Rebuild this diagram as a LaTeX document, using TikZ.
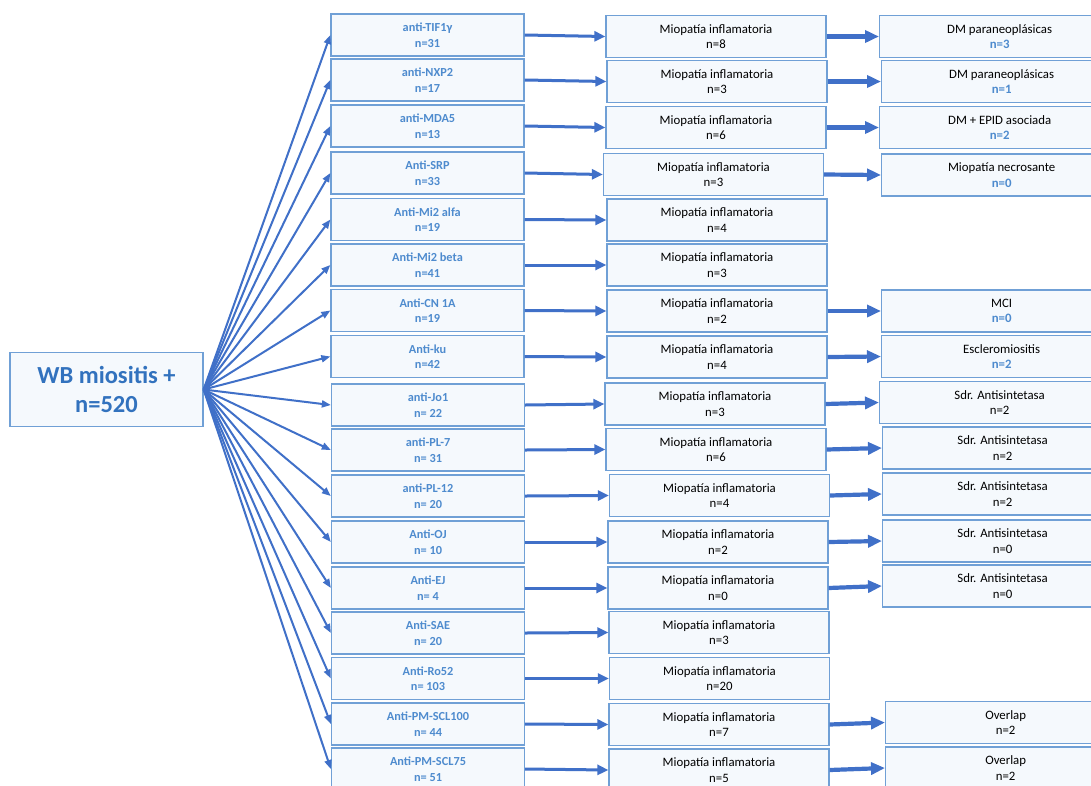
\documentclass[tikz,border=0pt]{standalone}
\usepackage{fontspec}
\setmainfont{Carlito}
\usetikzlibrary{arrows.meta}
\definecolor{arrowblue}{RGB}{64,112,200}
\definecolor{boxline}{RGB}{112,160,214}
\definecolor{boxfill}{RGB}{245,249,253}
\definecolor{txtblue}{RGB}{78,139,206}
\definecolor{roottxt}{RGB}{50,114,190}
\tikzset{
  box/.style={draw=boxline, fill=boxfill, line width=1.3pt, minimum height=42pt, inner sep=0pt, align=center, font=\fontsize{12.8}{15.5}\selectfont},
  abox/.style={box, minimum width=193pt, text=txtblue, font=\bfseries\fontsize{12.3}{15.5}\selectfont},
  mbox/.style={box, minimum width=220pt},
  rbox/.style={box, minimum width=240pt, anchor=west},
  rootbox/.style={box, minimum width=193pt, minimum height=74pt, text=roottxt, font=\bfseries\fontsize{24.5}{29.5}\selectfont},
  fan/.style={draw=arrowblue, line width=2pt, -{Triangle[length=9pt,width=7pt]}},
  mid/.style={draw=arrowblue, line width=3pt, -{Triangle[length=11pt,width=10pt]}},
  far/.style={draw=arrowblue, line width=4.2pt, -{Triangle[length=14pt,width=12pt]}},
}
\newcommand{\nb}[1]{\textcolor{txtblue}{\bfseries #1}}
\begin{document}
\begin{tikzpicture}[x=1pt,y=-1pt]
\useasboundingbox (0,0) rectangle (1091,785);
\clip (0,0) rectangle (1091,785);
\fill[white] (0,0) rectangle (1091,785);

\node[rootbox] (root) at (106.5,389.5) {WB miositis +\\n=520};

% column 1
\node[abox] (a1)  at (427.5,35)    {anti-TIF1γ\\n=31};
\node[abox] (a2)  at (427.5,80)    {anti-NXP2\\n=17};
\node[abox] (a3)  at (427.5,126)   {anti-MDA5\\n=13};
\node[abox] (a4)  at (427.5,173)   {Anti-SRP\\n=33};
\node[abox] (a5)  at (427.5,219.5) {Anti-Mi2 alfa\\n=19};
\node[abox] (a6)  at (427.5,265)   {Anti-Mi2 beta\\n=41};
\node[abox] (a7)  at (427.5,310.5) {Anti-CN 1A\\n=19};
\node[abox] (a8)  at (427.5,356.5) {Anti-ku\\n=42};
\node[abox] (a9)  at (428,405)     {anti-Jo1\\n= 22};
\node[abox] (a10) at (428,450)     {anti-PL-7\\n= 31};
\node[abox] (a11) at (428,496)     {anti-PL-12\\n= 20};
\node[abox] (a12) at (428,542)     {Anti-OJ\\n= 10};
\node[abox] (a13) at (428,588)     {Anti-EJ\\n= 4};
\node[abox] (a14) at (428,633)     {Anti-SAE\\n= 20};
\node[abox] (a15) at (428,678.5)   {Anti-Ro52\\n= 103};
\node[abox] (a16) at (428,724)     {Anti-PM-SCL100\\n= 44};
\node[abox] (a17) at (428,769)     {Anti-PM-SCL75\\n= 51};

% column 2
\node[mbox] (b1)  at (716,36.5)  {Miopatía inflamatoria\\n=8};
\node[mbox] (b2)  at (717,81.5)  {Miopatía inflamatoria\\n=3};
\node[mbox] (b3)  at (716,127.5) {Miopatía inflamatoria\\n=6};
\node[mbox] (b4)  at (713.5,174.5) {Miopatía inflamatoria\\n=3};
\node[mbox] (b5)  at (717,220)   {Miopatía inflamatoria\\n=4};
\node[mbox] (b6)  at (717,265)   {Miopatía inflamatoria\\n=3};
\node[mbox] (b7)  at (717,311)   {Miopatía inflamatoria\\n=2};
\node[mbox] (b8)  at (717,357)   {Miopatía inflamatoria\\n=4};
\node[mbox] (b9)  at (715,404)   {Miopatía inflamatoria\\n=3};
\node[mbox] (b10) at (716,449.5) {Miopatía inflamatoria\\n=6};
\node[mbox] (b11) at (719.5,495.5) {Miopatía inflamatoria\\n=4};
\node[mbox] (b12) at (718,542)   {Miopatía inflamatoria\\n=2};
\node[mbox] (b13) at (718,588)   {Miopatía inflamatoria\\n=0};
\node[mbox] (b14) at (719,632.5) {Miopatía inflamatoria\\n=3};
\node[mbox] (b15) at (719.5,678.5) {Miopatía inflamatoria\\n=20};
\node[mbox] (b16) at (719,724.5) {Miopatía inflamatoria\\n=7};
\node[mbox] (b17) at (719,770)   {Miopatía inflamatoria\\n=5};

% column 3
\node[rbox] (c1)  at (879,36.5)  {DM paraneoplásicas\\\nb{n=3}};
\node[rbox] (c2)  at (881,81.5)  {DM paraneoplásicas\\\nb{n=1}};
\node[rbox] (c3)  at (879,127.5) {DM + EPID asociada\\\nb{n=2}};
\node[rbox] (c4)  at (881,175)   {Miopatía necrosante\\\nb{n=0}};
\node[rbox] (c7)  at (881,311)   {MCI\\\nb{n=0}};
\node[rbox] (c8)  at (881,356.5) {Escleromiositis\\\nb{n=2}};
\node[rbox] (c9)  at (879,402.5) {Sdr. Antisintetasa\\n=2};
\node[rbox] (c10) at (882,448)   {Sdr. Antisintetasa\\n=2};
\node[rbox] (c11) at (882,494)   {Sdr. Antisintetasa\\n=2};
\node[rbox] (c12) at (882,541)   {Sdr. Antisintetasa\\n=0};
\node[rbox] (c13) at (882,586)   {Sdr. Antisintetasa\\n=0};
\node[rbox] (c16) at (885,722.5) {Overlap\\n=2};
\node[rbox] (c17) at (885,768)   {Overlap\\n=2};

% fan arrows
\foreach \i in {1,...,17} {
  \draw[fan] (root.east) -- (a\i.west);
}
% column 1 -> column 2
\foreach \i in {1,...,17} {
  \draw[mid] (a\i.east) -- (b\i.west);
}
% column 2 -> column 3
\foreach \i in {1,2,3,4,7,8,9,10,11,12,13,16,17} {
  \draw[far] (b\i.east) -- (c\i.west);
}
\end{tikzpicture}
\end{document}
